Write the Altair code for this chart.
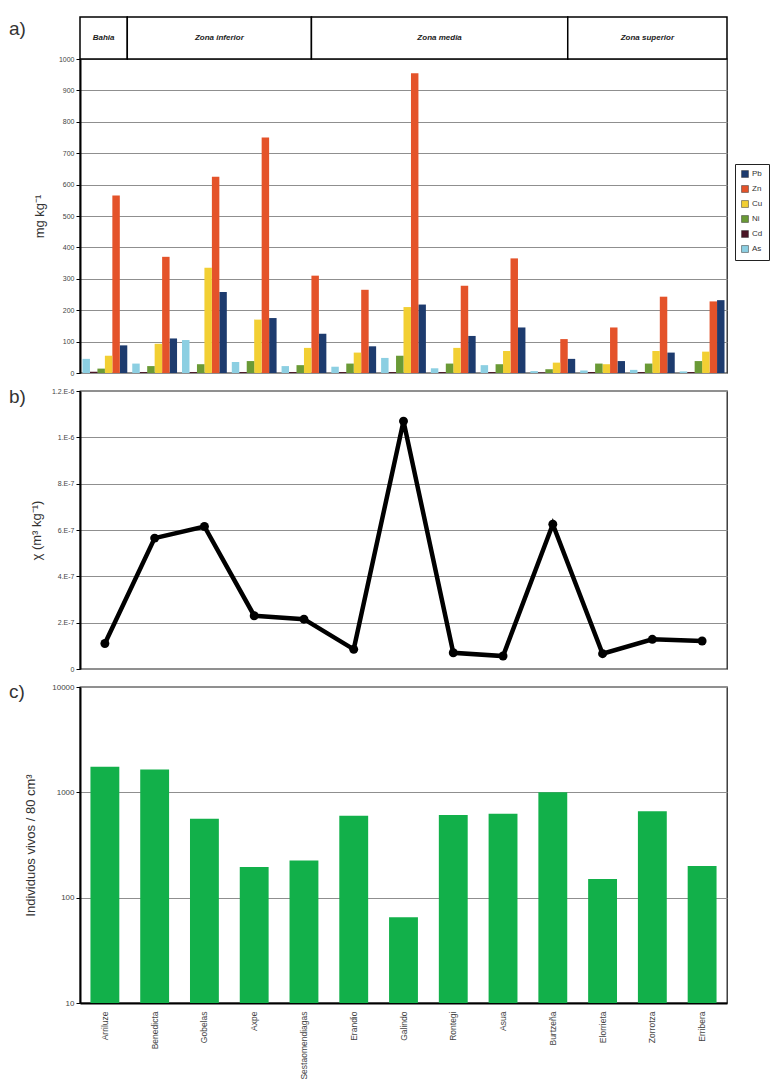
import altair as alt
import pandas as pd

sites = ["Arriluze", "Benedicta", "Gobelas", "Axpe", "Sestaomendiagas", "Erandio",
         "Galindo", "Rontegi", "Asua", "Burtzeña", "Elorrieta", "Zorrotza", "Erribera"]

# a) metals, mg kg-1
pb = [88, 110, 258, 175, 125, 85, 218, 118, 145, 45, 38, 65, 232]
zn = [565, 370, 625, 750, 310, 265, 955, 278, 365, 108, 145, 243, 228]
cu = [55, 93, 335, 170, 80, 65, 210, 80, 70, 33, 28, 70, 68]
ni = [14, 22, 28, 38, 25, 30, 55, 30, 28, 12, 30, 30, 38]
cd = [4, 3, 3, 3, 3, 3, 3, 3, 3, 2, 3, 3, 3]
as_ = [45, 30, 105, 35, 22, 20, 48, 15, 25, 6, 8, 10, 5]

legend_order = ["Pb", "Zn", "Cu", "Ni", "Cd", "As"]
bar_order = ["As", "Cd", "Ni", "Cu", "Zn", "Pb"]
metal_colors = ["#1d3b6e", "#e4532a", "#f2cf33", "#6a9a36", "#4a1626", "#8ccfe2"]

# b) magnetic susceptibility
chi = [1.1e-7, 5.65e-7, 6.15e-7, 2.3e-7, 2.15e-7, 0.85e-7, 1.07e-6,
       0.7e-7, 0.56e-7, 6.25e-7, 0.66e-7, 1.28e-7, 1.21e-7]
chi_labels = ["0", "2.E-7", "4.E-7", "6.E-7", "8.E-7", "1.E-6", "1.2.E-6"]

# c) living individuals
ind = [1750, 1650, 560, 195, 225, 600, 65, 610, 625, 1000, 150, 660, 200]

# zones (in site units)
zone_names = ["Bahia", "Zona inferior", "Zona media", "Zona superior"]
zone_start = [0, 0.95, 4.65, 9.8]
zone_end = [0.95, 4.65, 9.8, 13]

panel_labels = ["a)", "b)", "c)"]

W = 647
FONT = "Liberation Sans"

metal_vals = {"Pb": pb, "Zn": zn, "Cu": cu, "Ni": ni, "Cd": cd, "As": as_}
rows = []
for m, vals in metal_vals.items():
    for s, v in zip(sites, vals):
        rows.append({"site": s, "metal": m, "value": v})
adf = pd.DataFrame(rows)
bdf = pd.DataFrame({"site": sites, "chi": chi})
cdf = pd.DataFrame({"site": sites, "ind": ind})
zdf = pd.DataFrame({"zone": zone_names, "start": zone_start, "end": zone_end})


def lab(i, y):
    return alt.Chart(pd.DataFrame({"t": [panel_labels[i]]})).mark_text(
        align="left", fontSize=19, color="#333", font=FONT
    ).encode(x=alt.value(-71), y=alt.value(y), text="t:N")


# header (drawn above panel a's plot area)
zscale = alt.Scale(domain=[0, 13], nice=False, zero=False)
hrect = alt.Chart(zdf).mark_rect(fill="white", stroke="black", strokeWidth=1.5).encode(
    x=alt.X("start:Q", scale=zscale, axis=None), x2="end:Q",
    y=alt.value(-42), y2=alt.value(0)
)
htext = alt.Chart(zdf).transform_calculate(mid="(datum.start + datum.end) / 2").mark_text(
    fontSize=8, fontWeight="bold", fontStyle="italic", font=FONT, color="#222"
).encode(x=alt.X("mid:Q", scale=zscale, axis=None), y=alt.value(-21), text="zone:N")

# panel a
bars_a = alt.Chart(adf).mark_bar().encode(
    x=alt.X("site:N", sort=sites, scale=alt.Scale(paddingInner=0.1, paddingOuter=0.05), axis=None),
    xOffset=alt.XOffset("metal:N", sort=bar_order),
    y=alt.Y("value:Q", scale=alt.Scale(domain=[0, 1000], nice=False),
            axis=alt.Axis(values=list(range(0, 1001, 100)), format="d", title="mg kg⁻¹",
                          titlePadding=12, domainWidth=2, tickSize=4)),
    color=alt.Color("metal:N", scale=alt.Scale(domain=legend_order, range=metal_colors),
                    legend=alt.Legend(title=None, orient="none", legendX=655, legendY=105,
                                      symbolType="square", symbolSize=48, labelFontSize=8,
                                      strokeColor="#222", padding=6, rowPadding=5,
                                      symbolStrokeWidth=0.5, symbolStrokeColor="#333",
                                      fillColor="white", labelColor="#333", labelOffset=3)),
)
pa = alt.layer(bars_a, hrect, htext, lab(0, -30)).resolve_scale(x="independent").properties(
    width=W, height=314
)

# panel b
xb = alt.X("site:N", sort=sites, scale=alt.Scale(type="point", padding=0.5), axis=None)
yb = alt.Y("chi:Q", scale=alt.Scale(domain=[0, 1.2e-6], nice=False),
           axis=alt.Axis(values=[i * 2e-7 for i in range(7)], title="χ (m³ kg⁻¹)",
                         labelExpr="['" + "','".join(chi_labels) + "'][round(datum.value / 2e-7)]",
                         titlePadding=8, domainWidth=2, tickSize=4))
bline = alt.Chart(bdf).mark_line(color="black", strokeWidth=4.5).encode(x=xb, y=yb)
bpts = alt.Chart(bdf).mark_point(filled=True, color="black", size=80, opacity=1).encode(x=xb, y=yb)
pb_chart = alt.layer(bline, bpts, lab(1, 6)).properties(width=W, height=278)

# panel c
pc_bars = alt.Chart(cdf).mark_bar(color="#12b04a").encode(
    x=alt.X("site:N", sort=sites, scale=alt.Scale(paddingInner=0.42, paddingOuter=0.21),
            axis=alt.Axis(title=None, labelAngle=270, labelFontSize=8.5, ticks=False,
                          labelPadding=8, domainWidth=2, labelColor="#444")),
    y=alt.Y("ind:Q", scale=alt.Scale(type="log", domain=[10, 10000], nice=False),
            axis=alt.Axis(values=[10, 100, 1000, 10000], format="d",
                          title="Individuos vivos / 80 cm³", titlePadding=14,
                          domainWidth=2, tickSize=4, labelFontSize=8)),
    y2=alt.datum(10),
)
pc_chart = alt.layer(pc_bars, lab(2, 5)).properties(width=W, height=316)

chart = alt.vconcat(pa, pb_chart, pc_chart, spacing=9).resolve_scale(
    color="independent"
).properties(
    padding={"left": 8, "top": 15, "right": 0, "bottom": 0}
).configure_view(
    stroke="#222", strokeWidth=1.3
).configure_axis(
    labelFontSize=7, labelColor="#444", titleFontSize=13, titleFontWeight="normal",
    titleColor="#333", domainColor="black", tickColor="black", gridColor="#8f8f8f",
    gridWidth=1, labelFont=FONT, titleFont=FONT
)

chart.save("out.html", embed_options={"renderer": "svg", "actions": False})
